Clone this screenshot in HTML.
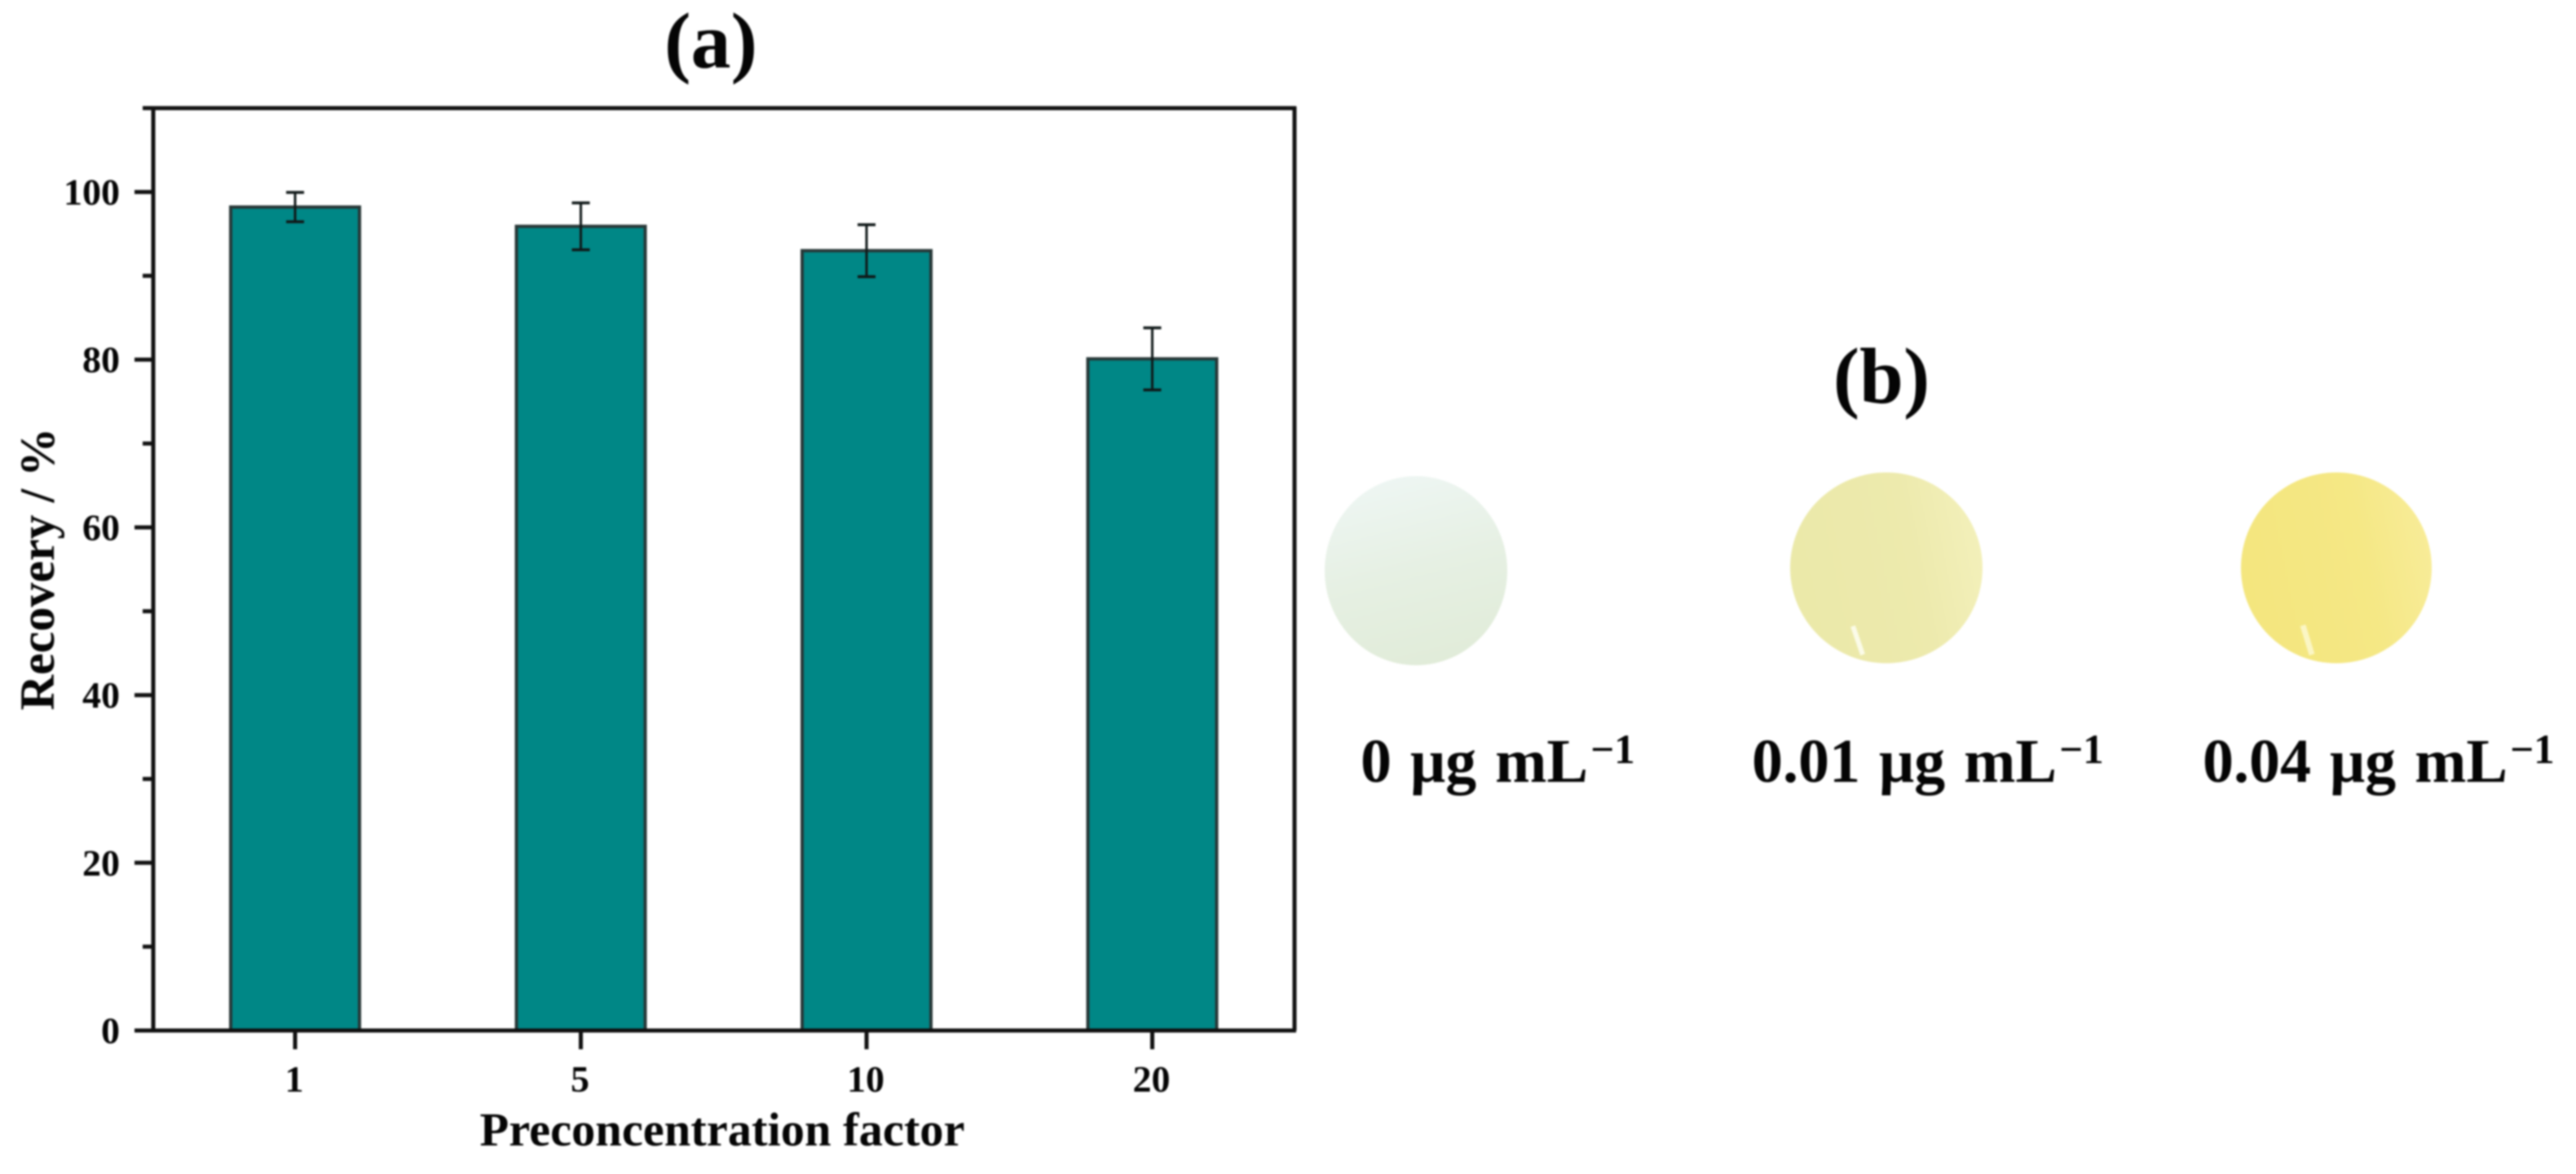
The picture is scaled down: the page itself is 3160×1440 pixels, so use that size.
<!DOCTYPE html>
<html lang="en">
<head>
<meta charset="utf-8">
<title>Recovery vs preconcentration factor</title>
<style>
html,body{margin:0;padding:0;background:#fff;width:3160px;height:1440px;overflow:hidden}
svg{display:block;filter:blur(1px)}
text{font-family:"Liberation Serif","DejaVu Serif",serif;font-weight:700;fill:#050505}
</style>
</head>
<body>
<svg id="figure" xmlns="http://www.w3.org/2000/svg" width="3160" height="1440" viewBox="0 0 3160 1440">
  <defs>
    <linearGradient id="disc0" x1="0.35" y1="0" x2="0.6" y2="1">
      <stop offset="0" stop-color="#eef6f3"/><stop offset="0.5" stop-color="#e6f0e3"/><stop offset="1" stop-color="#e1ecd9"/>
    </linearGradient>
    <linearGradient id="disc1" x1="0" y1="0.6" x2="1" y2="0.4">
      <stop offset="0" stop-color="#ebe9a9"/><stop offset="0.65" stop-color="#edeaad"/><stop offset="1" stop-color="#f3f0ba"/>
    </linearGradient>
    <linearGradient id="disc2" x1="0" y1="0.6" x2="1" y2="0.4">
      <stop offset="0" stop-color="#f4e67e"/><stop offset="0.65" stop-color="#f5e885"/><stop offset="1" stop-color="#f8ec98"/>
    </linearGradient>
  </defs>
  <text x="872" y="83" font-size="98" text-anchor="middle">(a)</text>
  <g id="chart"></g>
  <text x="886" y="1405" font-size="58.5" text-anchor="middle">Preconcentration factor</text>
  <text transform="translate(66,698) rotate(-90)" font-size="60" text-anchor="middle">Recovery / %</text>

  <text x="2308" y="494" font-size="97" text-anchor="middle">(b)</text>

  <ellipse cx="1737" cy="700" rx="112" ry="116" fill="url(#disc0)"/>
  <ellipse cx="2314" cy="696.5" rx="118" ry="117" fill="url(#disc1)"/>
  <line x1="2273" y1="768" x2="2285" y2="803" stroke="#fbfbe8" stroke-width="6"/>
  <ellipse cx="2866" cy="696.5" rx="117" ry="117" fill="url(#disc2)"/>
  <line x1="2825" y1="767" x2="2836" y2="803" stroke="#fbf6c4" stroke-width="7"/>

  <text x="1669" y="959" font-size="76" word-spacing="4">0 μg mL<tspan font-size="51" dy="-23" dx="3">−1</tspan></text>
  <text x="2149" y="959" font-size="76" word-spacing="4">0.01 μg mL<tspan font-size="51" dy="-23" dx="3">−1</tspan></text>
  <text x="2702" y="959" font-size="76" word-spacing="4">0.04 μg mL<tspan font-size="51" dy="-23" dx="3">−1</tspan></text>
</svg>
<script>
const categories = ['1', '5', '10', '20'];
const recovery = [98.2, 95.9, 93.0, 80.1];
const errors = [1.75, 2.8, 3.1, 3.7];
const yMajorTicks = [0, 20, 40, 60, 80, 100];
const yMinorTicks = [10, 30, 50, 70, 90, 110];

const NS = 'http://www.w3.org/2000/svg';
const chart = document.getElementById('chart');
const plotLeft = 188, plotRight = 1588, plotTop = 132.6, plotBottom = 1264;
const yMax = 110;
const barWidth = 158;
const capHalf = 11;
const axisColor = '#111111';
const axisWidth = 5;

function xScale(i) { return 362 + i * 350.5; }
function yScale(v) { return plotBottom - (v / yMax) * (plotBottom - plotTop); }

function make(tag, props) {
  const el = document.createElementNS(NS, tag);
  for (const k in props) el.setAttribute(k, props[k]);
  chart.appendChild(el);
  return el;
}

categories.forEach(function (cat, i) {
  const cx = xScale(i);
  const top = yScale(recovery[i]);
  const bar = make('rect', { x: cx - barWidth / 2, y: top, width: barWidth, height: plotBottom - top, fill: '#008786', stroke: '#283838', 'stroke-width': 4 });
  
  
});

categories.forEach(function (cat, i) {
  const cx = xScale(i);
  const hi = yScale(recovery[i] + errors[i]);
  const lo = yScale(recovery[i] - errors[i]);
  const stem = make('line', { x1: cx, x2: cx, y1: hi, y2: lo, stroke: '#101818', 'stroke-width': 3 });
  
  
  const capHi = make('line', { x1: cx - capHalf, x2: cx + capHalf, y1: hi, y2: hi, stroke: '#101818', 'stroke-width': 3.5 });
  
  
  const capLo = make('line', { x1: cx - capHalf, x2: cx + capHalf, y1: lo, y2: lo, stroke: '#101818', 'stroke-width': 3.5 });
  
  
});

const spineLeft = make('line', { x1: plotLeft, x2: plotLeft, y1: plotTop, y2: plotBottom, stroke: axisColor, 'stroke-width': axisWidth });


const spineRight = make('line', { x1: plotRight, x2: plotRight, y1: plotTop - 2, y2: plotBottom, stroke: axisColor, 'stroke-width': axisWidth });


const spineTop = make('line', { x1: plotLeft, x2: plotRight + 2, y1: plotTop, y2: plotTop, stroke: axisColor, 'stroke-width': axisWidth });


const spineBottom = make('line', { x1: plotLeft, x2: plotRight + 2, y1: plotBottom, y2: plotBottom, stroke: axisColor, 'stroke-width': axisWidth });



yMajorTicks.forEach(function (v) {
  const y = yScale(v);
  const tick = make('line', { x1: plotLeft - 23, x2: plotLeft, y1: y, y2: y, stroke: axisColor, 'stroke-width': axisWidth });
  
  
  const label = make('text', { x: 147, y: y + 15.5, 'font-size': 46, 'text-anchor': 'end' });
  label.textContent = String(v);
  
  
});

yMinorTicks.forEach(function (v) {
  const y = yScale(v);
  const tick = make('line', { x1: plotLeft - 13, x2: plotLeft, y1: y, y2: y, stroke: axisColor, 'stroke-width': axisWidth });
  
  
});

categories.forEach(function (cat, i) {
  const x = xScale(i);
  const tick = make('line', { x1: x, x2: x, y1: plotBottom, y2: plotBottom + 23, stroke: axisColor, 'stroke-width': axisWidth });
  
  
  const label = make('text', { x: x - 1, y: 1339, 'font-size': 46, 'text-anchor': 'middle' });
  label.textContent = cat;
  
  
});
</script>
</body>
</html>
